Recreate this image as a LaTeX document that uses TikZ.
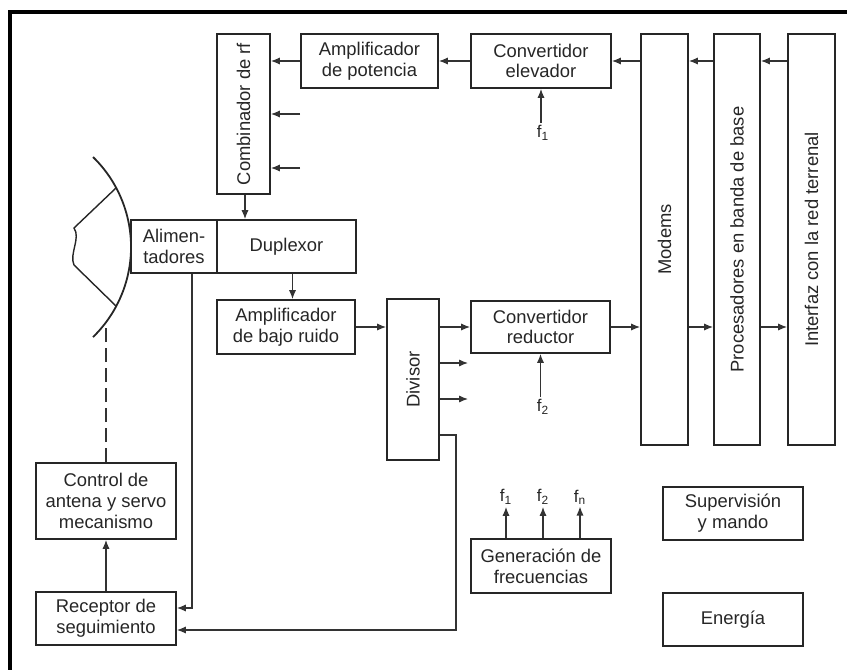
\documentclass[tikz,border=0pt]{standalone}
\usepackage{fontspec}
\setmainfont{Liberation Sans}
\usepackage{graphicx}
\usetikzlibrary{arrows.meta}

\tikzset{
  bloque/.style={draw=black!85, line width=0.9pt, inner sep=0pt, align=center,
    font=\fontsize{9.2}{10.4}\selectfont, text=black!85},
  flecha/.style={draw=black!80, line width=0.6pt, -{Latex[length=4.5pt,width=3.6pt]}},
  frec/.style={inner sep=1pt, font=\fontsize{8.5}{10}\selectfont, text=black!85}
}

\begin{document}
\begin{tikzpicture}[x=0.5pt, y=-0.5pt]
    \useasboundingbox (0,0) rectangle (847,670);
    \draw[line width=2pt] (10,670) -- (10,12) -- (847,12);

    \node[bloque, minimum width=26.5pt, minimum height=80pt] (comb) at (243.5,114) {\rotatebox{90}{Combinador de rf}};
    \node[bloque, minimum width=68.5pt, minimum height=27pt] (amppot) at (369.5,61) {Amplificador\\de potencia};
    \node[bloque, minimum width=70pt, minimum height=27pt] (convelev) at (541,61) {Convertidor\\elevador};
    \node[bloque, minimum width=23.5pt, minimum height=205.5pt] (modems) at (664.5,239.5) {\rotatebox{90}{Modems}};
    \node[bloque, minimum width=23pt, minimum height=205.5pt] (proc) at (737,239.5) {\rotatebox{90}{Procesadores en banda de base}};
    \node[bloque, minimum width=23.5pt, minimum height=205.5pt] (interf) at (811.5,239.5) {\rotatebox{90}{Interfaz con la red terrenal}};
    \node[bloque, minimum width=43pt, minimum height=26.5pt] (alim) at (174,246.5) {Alimen-\\tadores};
    \node[bloque, minimum width=69.5pt, minimum height=26.5pt] (dup) at (286.5,246.5) {Duplexor};
    \node[bloque, minimum width=69pt, minimum height=27pt] (lna) at (286,327) {Amplificador\\de bajo ruido};
    \node[bloque, minimum width=26pt, minimum height=80.5pt] (divisor) at (413,379.5) {\rotatebox{90}{Divisor}};
    \node[bloque, minimum width=69.5pt, minimum height=26pt] (convred) at (540.5,327) {Convertidor\\reductor};
    \node[bloque, minimum width=70pt, minimum height=38pt] (control) at (106,501) {Control de\\antena y servo\\mecanismo};
    \node[bloque, minimum width=70pt, minimum height=26.5pt] (receptor) at (106,618.5) {Receptor de\\seguimiento};
    \node[bloque, minimum width=70pt, minimum height=27pt] (genfreq) at (541,566) {Generación de\\frecuencias};
    \node[bloque, minimum width=70pt, minimum height=26.5pt] (superv) at (733,513.5) {Supervisión\\y mando};
    \node[bloque, minimum width=70pt, minimum height=26.5pt] (energia) at (733,619.5) {Energía};

    \node[frec] (fa) at (543,133) {f\textsubscript{1}};
    \node[frec] (fb) at (543,407) {f\textsubscript{2}};
    \node[frec] (g1) at (506,497) {f\textsubscript{1}};
    \node[frec] (g2) at (543,497) {f\textsubscript{2}};
    \node[frec] (gn) at (580,497) {f\textsubscript{n}};

    \draw[line width=0.9pt, black!85] (93,157) arc[start angle=-45.8, end angle=45.8, radius=125.6];
    \draw[line width=0.7pt, black!85] (116,188) -- (74,228) .. controls (81,238) and (69,254) .. (74,265) -- (116,306);
    \coordinate (dishlow) at (106,326);
    \draw[black!80, line width=0.6pt, dash pattern=on 7pt off 3pt] (control.north) -- (dishlow);

    \draw[flecha] (interf.west |- convelev.east) -- (proc.east |- convelev.east);
    \draw[flecha] (proc.west |- convelev.east) -- (modems.east |- convelev.east);
    \draw[flecha] (modems.west |- convelev.east) -- (convelev.east);
    \draw[flecha] (convelev.west) -- (amppot.east);
    \draw[flecha] (amppot.west) -- (comb.east |- amppot.west);
    \coordinate (cb2) at (300,114);
    \coordinate (cb3) at (300,168);
    \draw[flecha] (cb2) -- (comb.east |- cb2);
    \draw[flecha] (cb3) -- (comb.east |- cb3);
    \draw[flecha] (convelev.south |- fa.north) -- (convelev.south);
    \draw[flecha] ([xshift=0.75pt]comb.south) -- ([xshift=0.75pt]comb.south |- dup.north);
    \draw[flecha] ([xshift=3pt]dup.south) -- ([xshift=3pt]dup.south |- lna.north);
    \draw[flecha] (lna.east) -- (divisor.west |- lna.east);
    \draw[flecha] (divisor.east |- convred.west) -- (convred.west);
    \coordinate (dv2) at (468,363);
    \coordinate (dv3) at (468,399);
    \draw[flecha] (divisor.east |- dv2) -- (dv2);
    \draw[flecha] (divisor.east |- dv3) -- (dv3);
    \draw[flecha] (convred.south |- fb.north) -- (convred.south);
    \draw[flecha] (convred.east) -- (modems.west |- convred.east);
    \draw[flecha] (modems.east |- convred.east) -- (proc.west |- convred.east);
    \draw[flecha] (proc.east |- convred.east) -- (interf.west |- convred.east);
    \coordinate (dvsal) at (456,435);
    \draw[flecha] (divisor.east |- dvsal) -- (dvsal) |- ([yshift=-5.75pt]receptor.east);
    \draw[flecha] ([xshift=9pt]alim.south) |- ([yshift=5.25pt]receptor.east);
    \draw[flecha] (receptor.north) -- (control.south);
    \foreach \g in {g1,g2,gn}
      \draw[flecha] (genfreq.north -| \g) -- (\g.south);
\end{tikzpicture}
\end{document}
